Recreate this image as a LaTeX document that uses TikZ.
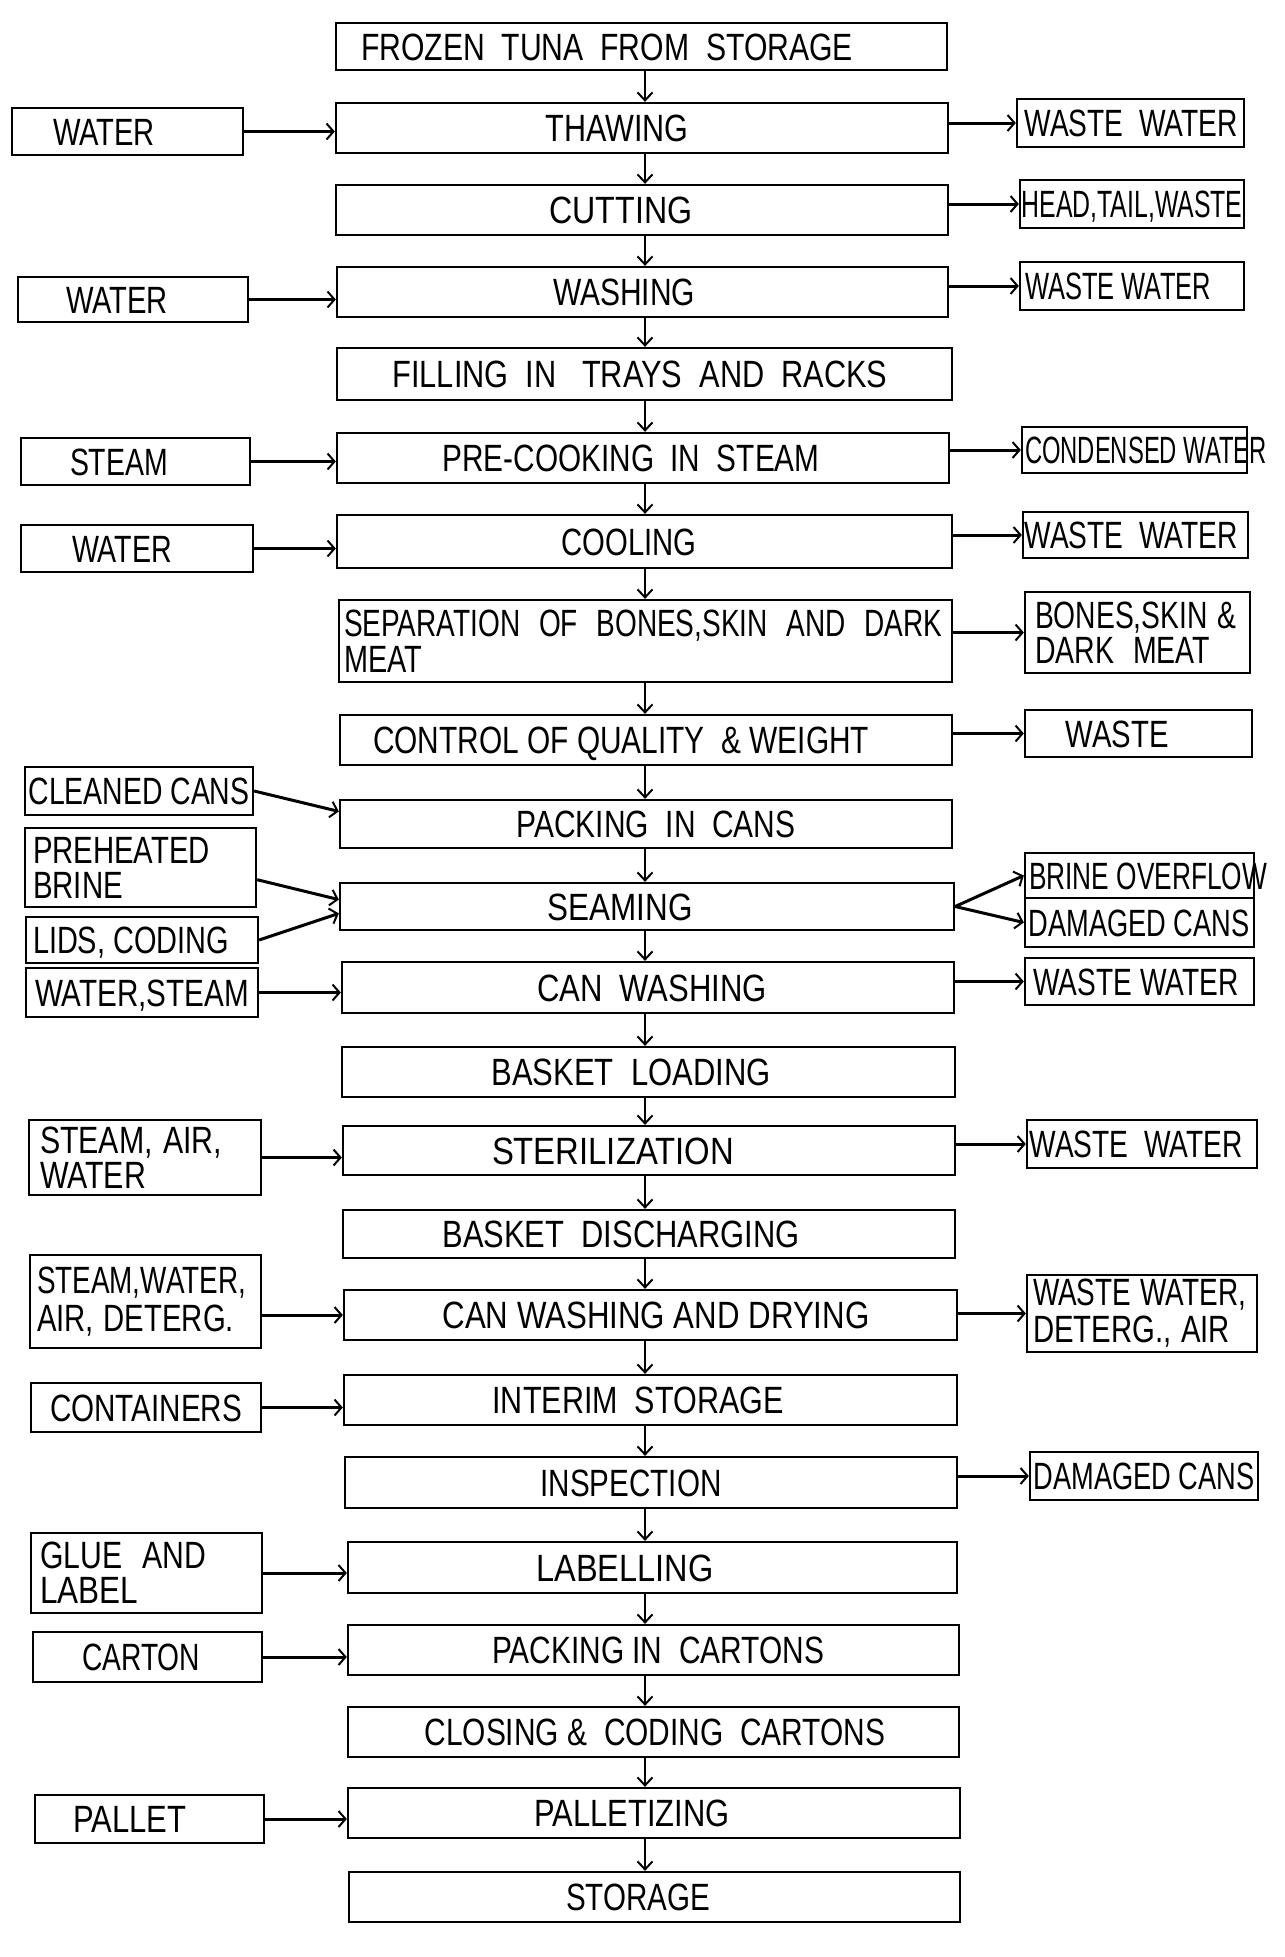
\documentclass[tikz,border=0pt]{standalone}
\usepackage{fontspec}
\setmainfont{Liberation Sans}
\usetikzlibrary{arrows.meta,calc}
\newcommand\fw[2]{\resizebox{#1pt}{\height}{#2}}
\tikzset{
  box/.style={draw, line width=2.3pt, inner sep=0pt},
  sbox/.style={box, font=\fontsize{38}{38}\selectfont, text height=27pt, text depth=0pt},
  flow/.style={line width=2pt, -{Straight Barb[length=8pt,width=15pt]}},
  side/.style={line width=3pt, -{Straight Barb[length=7pt,width=16pt,line width=2pt]}}
}
% single-line box: name,x1,y1,x2,y2,text centre x,text width,text
\newcommand\B[8]{%
  \pgfmathsetmacro\bw{#4-#2}\pgfmathsetmacro\bh{#5-#3}%
  \pgfmathsetmacro\bcx{(#2+#4)/2}\pgfmathsetmacro\bcy{(#3+#5)/2}%
  \pgfmathsetmacro\bdx{2*(#6-(#2+#4)/2)}%
  \node[sbox, minimum width=\bw pt, minimum height=\bh pt] (#1) at (\bcx,\bcy)
    {\makebox[0pt]{\hspace*{\bdx pt}\fw{#7}{#8}}};}
% two-line box: name,x1,y1,x2,y2,pad,baselineskip,line1,line2
\newcommand\M[9]{%
  \pgfmathsetmacro\bw{#4-#2-2*#6}\pgfmathsetmacro\bh{#5-#3}%
  \pgfmathsetmacro\bcx{(#2+#4)/2}\pgfmathsetmacro\bcy{(#3+#5)/2}%
  \node[box, align=left, text width=\bw pt, inner xsep=#6pt, minimum height=\bh pt,
    font=\fontsize{38}{#7}\selectfont] (#1) at (\bcx,\bcy) {#8\\#9};}
\begin{document}
\begin{tikzpicture}[x=1pt,y=-1pt]
\useasboundingbox[fill=white] (0,0) rectangle (1285,1957);
\coordinate (col) at (645,0);
% main column
\B{frozen}{336}{23}{947}{70}{607}{492}{FROZEN\ \ TUNA\ \ FROM\ \ STORAGE}
\B{thaw}{336}{103}{948}{153}{617}{143}{THAWING}
\B{cut}{336}{185}{948}{235}{621}{143}{CUTTING}
\B{wash}{337}{267}{948}{317}{624}{142}{WASHING}
\B{fill}{337}{348}{952}{400}{640}{495}{FILLING\ \ IN\ \ \ TRAYS\ \ AND\ \ RACKS}
\B{precook}{337}{433}{949}{483}{631}{377}{PRE-COOKING\ \ IN\ \ STEAM}
\B{cool}{337}{515}{952}{568}{629}{135}{COOLING}
\M{sep}{339}{600}{952}{682}{5}{36}{\fw{598}{SEPARATION\ \ OF\ \ BONES,SKIN\ \ AND\ \ DARK}}{\fw{78}{MEAT}}
\B{ctrl}{340}{715}{952}{765}{621}{496}{CONTROL OF QUALITY\ \ \&\ WEIGHT}
\B{pack}{340}{800}{952}{848}{656}{279}{PACKING\ \ IN\ \ CANS}
\B{seam}{340}{883}{954}{930}{620}{145}{SEAMING}
\B{canw}{342}{962}{954}{1013}{652}{230}{CAN\ \ WASHING}
\B{bload}{342}{1047}{955}{1097}{631}{279}{BASKET\ \ LOADING}
\B{steril}{343}{1126}{955}{1175}{613}{242}{STERILIZATION}
\B{bdis}{343}{1210}{955}{1258}{621}{357}{BASKET\ \ DISCHARGING}
\B{cwd}{344}{1290}{957}{1340}{656}{427}{CAN WASHING AND DRYING}
\B{interim}{344}{1375}{957}{1425}{638}{291}{INTERIM\ \ STORAGE}
\B{insp}{345}{1457}{957}{1508}{631}{181}{INSPECTION}
\B{labl}{348}{1542}{957}{1593}{625}{177}{LABELLING}
\B{pcart}{348}{1625}{959}{1675}{658}{332}{PACKING IN\ \ CARTONS}
\B{close}{348}{1707}{959}{1757}{655}{461}{CLOSING \&\ \ CODING\ \ CARTONS}
\B{pallz}{348}{1788}{960}{1838}{632}{195}{PALLETIZING}
\B{stor}{349}{1872}{960}{1922}{638}{144}{STORAGE}
% inputs
\B{water1}{12}{108}{243}{155}{104}{102}{WATER}
\B{water2}{18}{277}{248}{322}{117}{102}{WATER}
\B{steam}{21}{438}{250}{485}{119}{98}{STEAM}
\B{water3}{21}{525}{253}{572}{122}{100}{WATER}
\B{clean}{25}{767}{253}{815}{139}{221}{CLEANED CANS}
\M{brine}{25}{828}{256}{907}{8}{35}{\fw{177}{PREHEATED}}{\fw{90}{BRINE}}
\B{lids}{26}{917}{258}{963}{131}{196}{LIDS, CODING}
\B{wsteam}{26}{968}{258}{1017}{142}{214}{WATER,STEAM}
\M{sawat}{29}{1120}{261}{1195}{11}{35}{\fw{182}{STEAM, AIR,}}{\fw{106}{WATER}}
\M{swad}{30}{1255}{261}{1348}{7}{38}{\fw{209}{STEAM,WATER,}}{\fw{197}{AIR, DETERG.}}
\B{cont}{31}{1383}{261}{1432}{146}{192}{CONTAINERS}
\M{glue}{31}{1533}{262}{1613}{9}{35}{\fw{166}{GLUE\ \ AND}}{\fw{98}{LABEL}}
\B{carton}{33}{1632}{262}{1682}{141}{118}{CARTON}
\B{pallet}{35}{1795}{264}{1843}{130}{113}{PALLET}
% outputs
\B{ww1}{1017}{99}{1244}{147}{1131}{213}{WASTE\ \ WATER}
\B{htw}{1020}{180}{1244}{228}{1132}{221}{HEAD,TAIL,WASTE}
\B{ww2}{1020}{262}{1244}{310}{1118}{186}{WASTE WATER}
\B{cond}{1022}{427}{1247}{473}{1146}{242}{CONDENSED WATER}
\B{ww3}{1023}{512}{1248}{558}{1131}{213}{WASTE\ \ WATER}
\M{bones}{1025}{592}{1250}{673}{10}{35}{\fw{201}{BONES,SKIN \&}}{\fw{175}{DARK\ \ MEAT}}
\B{waste}{1025}{710}{1252}{757}{1117}{103}{WASTE}
\B{brov}{1025}{853}{1254}{898}{1148}{238}{BRINE OVERFLOW}
\B{dam1}{1025}{898}{1254}{947}{1139}{221}{DAMAGED CANS}
\B{ww4}{1025}{958}{1254}{1005}{1136}{205}{WASTE WATER}
\B{ww5}{1027}{1120}{1257}{1168}{1136}{213}{WASTE\ \ WATER}
\M{wwda}{1027}{1275}{1257}{1352}{6}{37}{\fw{213}{WASTE WATER,}}{\fw{197}{DETERG., AIR}}
\B{dam2}{1030}{1452}{1258}{1500}{1144}{221}{DAMAGED CANS}
% main flow
\foreach \a/\b in {frozen/thaw,thaw/cut,cut/wash,wash/fill,fill/precook,precook/cool,
  cool/sep,sep/ctrl,ctrl/pack,pack/seam,seam/canw,canw/bload,bload/steril,steril/bdis,
  bdis/cwd,cwd/interim,interim/insp,insp/labl,labl/pcart,pcart/close,close/pallz,pallz/stor}
  \draw[flow] (\a.south -| col) -- (\b.north -| col);
% inputs
\foreach \a/\b in {water1/thaw,water2/wash,steam/precook,water3/cool,wsteam/canw,
  sawat/steril,cont/interim,glue/labl,carton/pcart,pallet/pallz}
  \draw[side] (\a.east) -- (\a.east -| \b.west);
\draw[side] (swad.east |- cwd.west) -- (cwd.west);
\draw[side] (clean.east) -- ($(pack.north west)!0.25!(pack.south west)$);
\draw[side] ($(brine.north east)!0.65!(brine.south east)$) -- ($(seam.north west)!0.36!(seam.south west)$);
\draw[side] (lids.east) -- ($(seam.north west)!0.64!(seam.south west)$);
% outputs
\foreach \a/\b in {thaw/ww1,cut/htw,wash/ww2,precook/cond,cool/ww3,sep/bones,ctrl/waste,
  canw/ww4,steril/ww5,cwd/wwda,insp/dam2}
  \draw[side] (\a.east |- \b.west) -- (\b.west);
\draw[side] (seam.east) -- (brov.west);
\draw[side] (seam.east) -- (dam1.west);
\end{tikzpicture}
\end{document}
